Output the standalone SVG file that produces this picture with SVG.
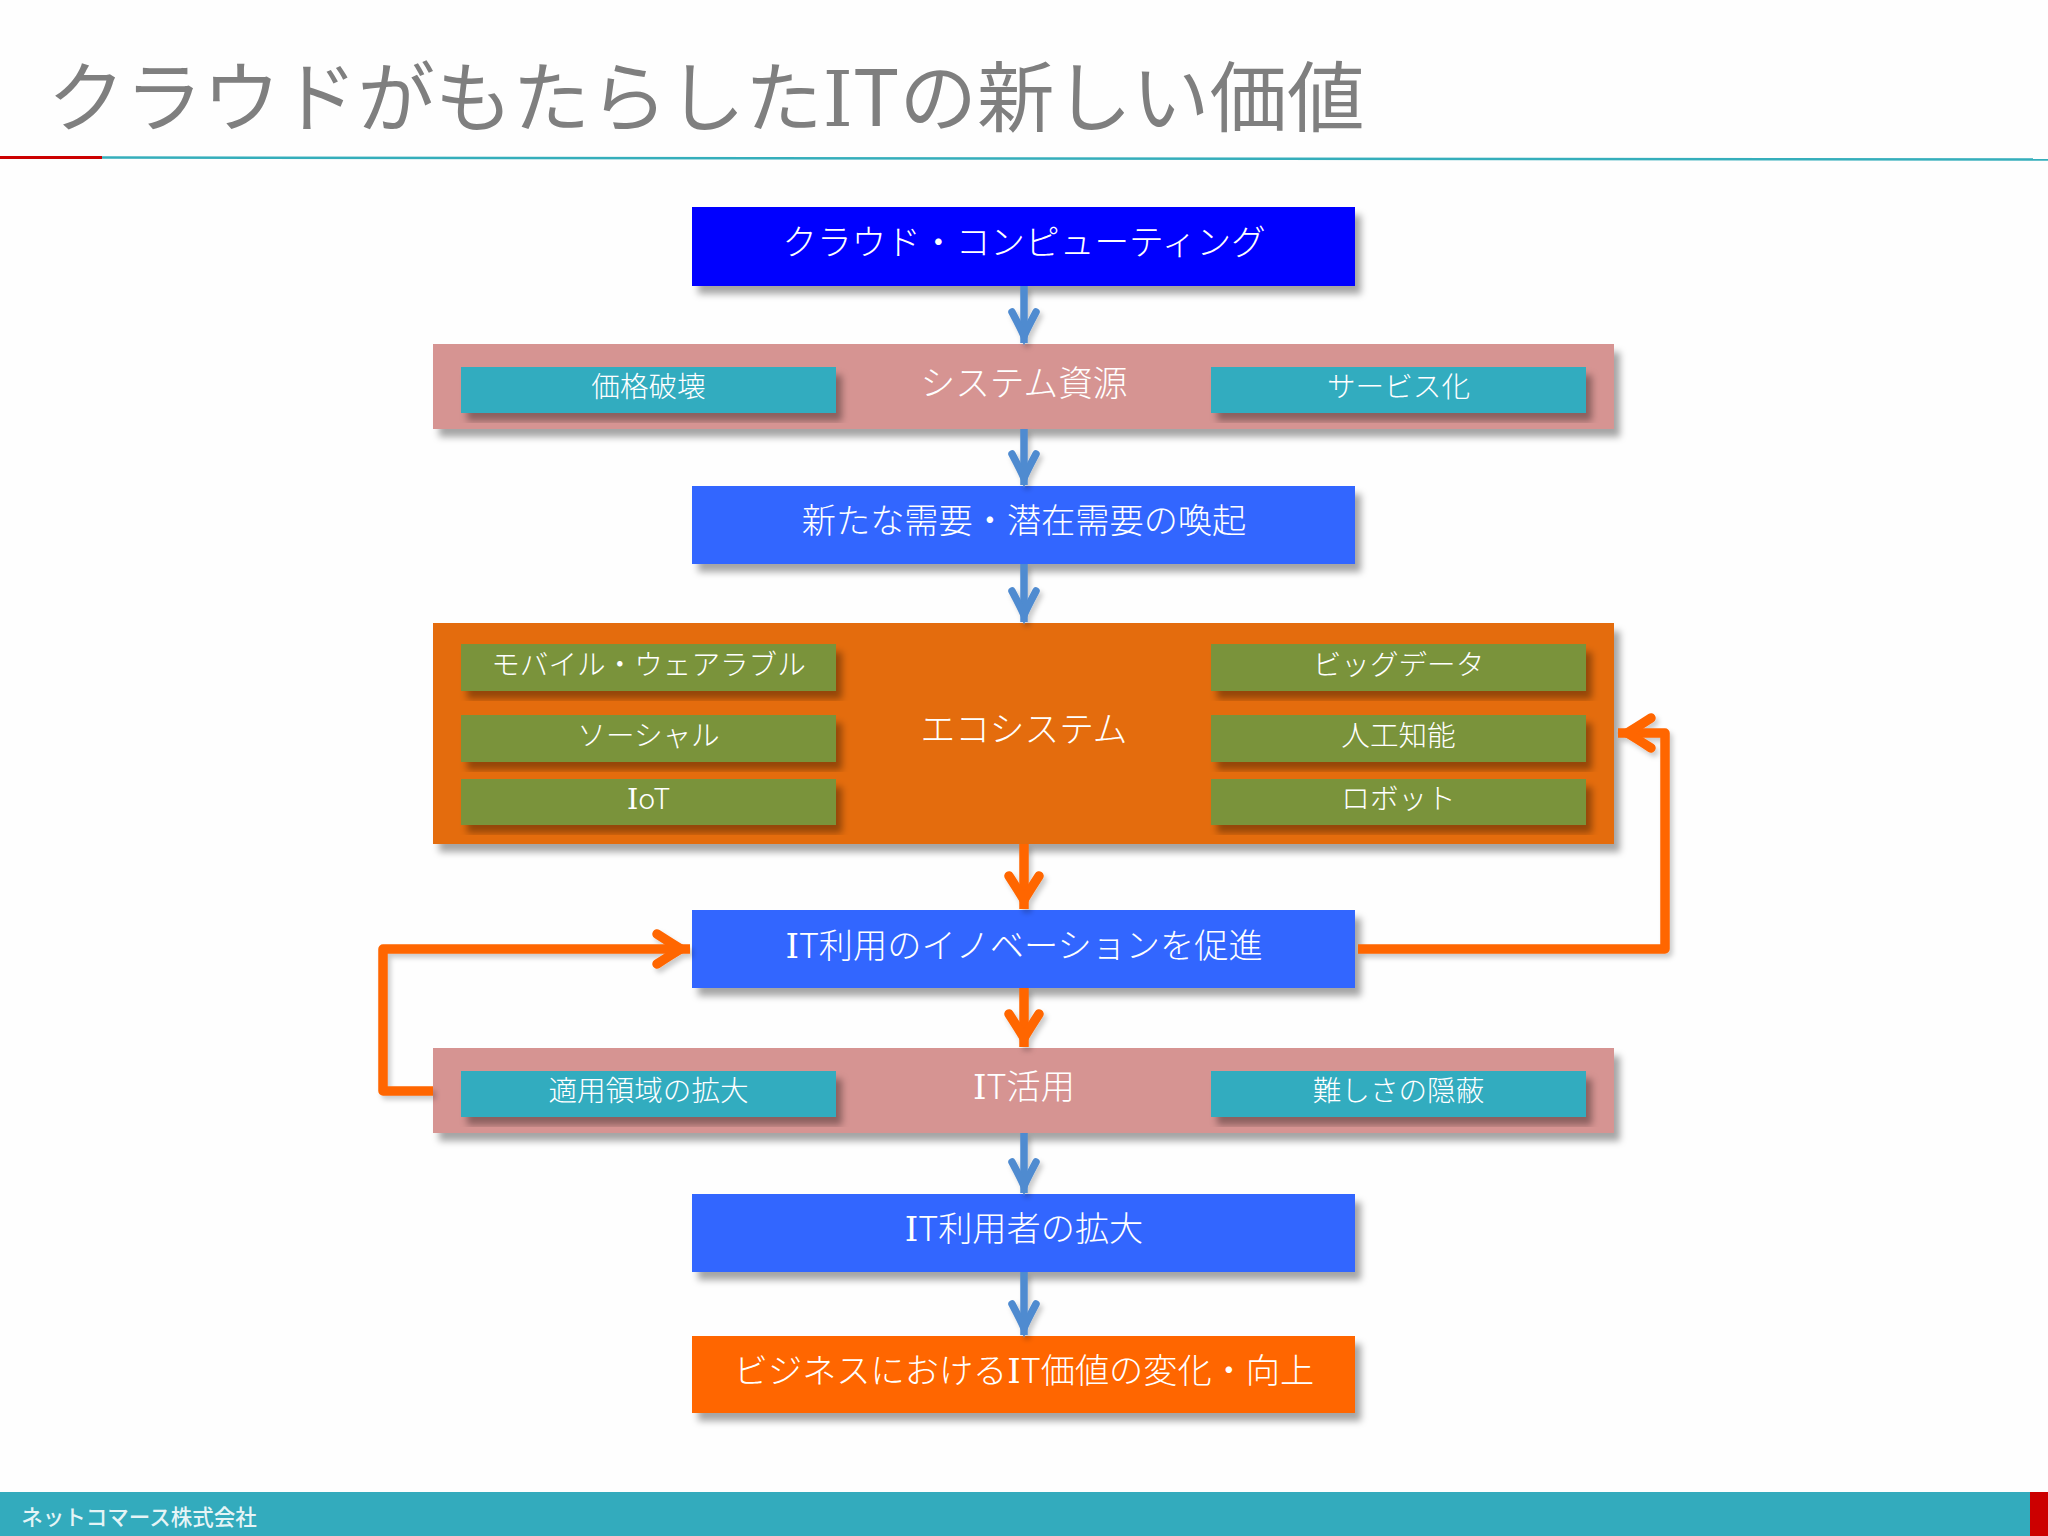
<svg xmlns="http://www.w3.org/2000/svg" width="2048" height="1536" viewBox="0 0 2048 1536">
<style>
text{font-family:"Noto Sans CJK JP","Noto Sans",sans-serif;fill:#fff;text-anchor:middle;font-weight:300}
.t35{font-size:34.7px}.t34{font-size:34.2px}.t29{font-size:28.6px}
.i{font-family:"DejaVu Serif",serif;font-weight:400}
.deep{fill:#00f}.blue{fill:#36f}.pink{fill:#d69492}.teal{fill:#31acbf}.eco{fill:#e46c0a}.green{fill:#7a933b}.org{fill:#f60}
.sh{filter:url(#s)}
.cb{fill:none;stroke:#4f8bd0;stroke-width:7.5;marker-end:url(#ab)}
.co{fill:none;stroke:#f60;stroke-width:9.5;stroke-linejoin:round;marker-end:url(#ao)}
</style>
<defs>
<filter id="s" x="-5%" y="-10%" width="110%" height="130%"><feDropShadow dx="6" dy="8" stdDeviation="3.500" flood-color="#000" flood-opacity=".35"/></filter>
<filter id="c" x="-5%" y="-5%" width="110%" height="110%"><feDropShadow dx="3" dy="4" stdDeviation="2.500" flood-color="#000" flood-opacity=".2"/></filter>
<marker id="ab" markerUnits="userSpaceOnUse" markerWidth="50" markerHeight="50" refX="0" refY="0" orient="auto" overflow="visible"><path d="M-31,-12 Q-14,-3 -7,0 Q-14,3 -31,12" fill="none" stroke="#4f8bd0" stroke-width="7.500" stroke-linecap="round"/></marker>
<marker id="ao" markerUnits="userSpaceOnUse" markerWidth="50" markerHeight="50" refX="0" refY="0" orient="auto" overflow="visible"><path d="M-33,-15 Q-16,-4 -9,0 Q-16,4 -33,15" fill="none" stroke="#f60" stroke-width="9.500" stroke-linecap="round"/></marker>
</defs>
<rect width="2048" height="1536" fill="#fefefe"/>
<g id="header">
<path d="M102,157.5 L2048,159.5" stroke="#35aebb" stroke-width="2.5" fill="none"/>
<rect x="0" y="156" width="102" height="3" fill="#c00"/>
<text x="706" y="126" font-size="77.500" style="fill:#7f7f7f;font-weight:400">クラウドがもたらした<tspan class="i">I</tspan>Tの新しい価値</text>
</g>
<g id="n1"><rect class="deep sh" x="692" y="207" width="663" height="79"/><text class="t35" x="1024" y="255">クラウド・コンピューティング</text></g>
<g id="n2"><rect class="pink sh" x="433" y="344" width="1181" height="85"/><text class="t35" x="1024" y="396">システム資源</text>
<g id="n2a"><rect class="teal sh" x="461" y="367" width="375" height="46"/><text class="t29" x="648.500" y="397">価格破壊</text></g>
<g id="n2b"><rect class="teal sh" x="1211" y="367" width="375" height="46"/><text class="t29" x="1398.500" y="397">サービス化</text></g></g>
<g id="n3"><rect class="blue sh" x="692" y="486" width="663" height="78"/><text class="t34" x="1024" y="533">新たな需要・潜在需要の喚起</text></g>
<g id="n4"><rect class="eco sh" x="433" y="623" width="1181" height="221"/><text class="t35" x="1024" y="742">エコシステム</text>
<g id="n4a"><rect class="green sh" x="461" y="644" width="375" height="47"/><text class="t29" x="648.500" y="675">モバイル・ウェアラブル</text></g>
<g id="n4b"><rect class="green sh" x="461" y="715" width="375" height="47"/><text class="t29" x="648.500" y="746">ソーシャル</text></g>
<g id="n4c"><rect class="green sh" x="461" y="779" width="375" height="46"/><text class="t29" x="648.500" y="809"><tspan class="i">I</tspan>oT</text></g>
<g id="n4d"><rect class="green sh" x="1211" y="644" width="375" height="47"/><text class="t29" x="1398.500" y="675">ビッグデータ</text></g>
<g id="n4e"><rect class="green sh" x="1211" y="715" width="375" height="47"/><text class="t29" x="1398.500" y="746">人工知能</text></g>
<g id="n4f"><rect class="green sh" x="1211" y="779" width="375" height="46"/><text class="t29" x="1398.500" y="809">ロボット</text></g></g>
<g id="n5"><rect class="blue sh" x="692" y="910" width="663" height="78"/><text class="t34" x="1024" y="958"><tspan class="i">I</tspan>T利用のイノベーションを促進</text></g>
<g id="n6"><rect class="pink sh" x="433" y="1048" width="1181" height="85"/><text class="t34" x="1024" y="1099"><tspan class="i">I</tspan>T活用</text>
<g id="n6a"><rect class="teal sh" x="461" y="1071" width="375" height="46"/><text class="t29" x="648.500" y="1101">適用領域の拡大</text></g>
<g id="n6b"><rect class="teal sh" x="1211" y="1071" width="375" height="46"/><text class="t29" x="1398.500" y="1101">難しさの隠蔽</text></g></g>
<g id="n7"><rect class="blue sh" x="692" y="1194" width="663" height="78"/><text class="t34" x="1024" y="1241"><tspan class="i">I</tspan>T利用者の拡大</text></g>
<g id="n8"><rect class="org sh" x="692" y="1336" width="663" height="77"/><text class="t34" x="1024" y="1383">ビジネスにおける<tspan class="i">I</tspan>T価値の変化・向上</text></g>
<g id="connectors" filter="url(#c)">
<path class="cb" d="M1024,286 V343"/>
<path class="cb" d="M1024,429 V485"/>
<path class="cb" d="M1024,564 V622"/>
<path class="co" d="M1024,844 V909"/>
<path class="co" d="M1024,988 V1047"/>
<path class="cb" d="M1024,1133 V1193"/>
<path class="cb" d="M1024,1272 V1335"/>
<path class="co" d="M1358,949 H1665 V733 H1618"/>
<path class="co" d="M433,1091 H383 V949 H690"/>
</g>
<g id="footer">
<rect x="0" y="1492" width="2030" height="44" fill="#33abbd"/>
<rect x="2030" y="1492" width="18" height="44" fill="#c00"/>
<text x="139" y="1525" font-size="21.500" style="font-weight:500;fill-opacity:.88">ネットコマース株式会社</text>
</g>
</svg>
